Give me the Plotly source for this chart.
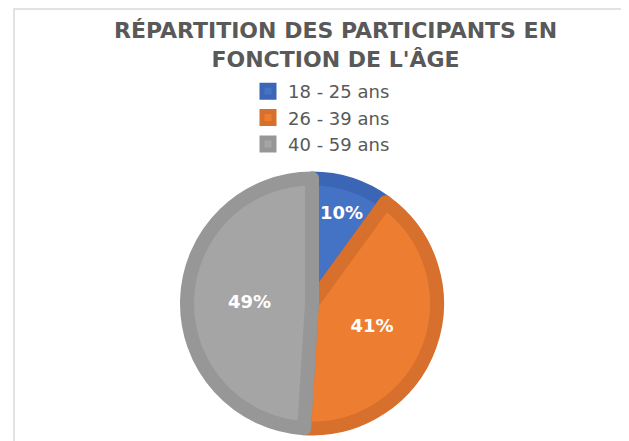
import plotly.graph_objects as go

categories = ["18 - 25 ans", "26 - 39 ans", "40 - 59 ans"]
values = [10, 41, 49]
title_text = "RÉPARTITION DES PARTICIPANTS EN<br>FONCTION DE L'ÂGE"

fill_colors = ["#4472C4", "#ED7D31", "#A5A5A5"]
edge_colors = ["#3B66B5", "#D6702C", "#979797"]

# page body adds an 8px margin, so the figure is 8px smaller than the window
W, H = 621, 433

fig = go.Figure(
    go.Pie(
        labels=categories,
        values=values,
        sort=False,
        direction="clockwise",
        rotation=0,
        marker=dict(colors=fill_colors, line=dict(color=edge_colors, width=14)),
        texttemplate="%{percent:.0%}",
        textposition="inside",
        insidetextorientation="horizontal",
        textfont=dict(family="DejaVu Sans", size=18, color="white", weight="bold"),
        domain=dict(x=[179 / W, 429 / W], y=[12.5 / H, 262.5 / H]),
        hoverinfo="label+percent",
    )
)

fig.update_layout(
    width=W,
    height=H,
    margin=dict(l=0, r=0, t=0, b=0),
    paper_bgcolor="white",
    plot_bgcolor="white",
    title=dict(
        text=title_text,
        x=327.5 / W,
        xanchor="center",
        y=1 - 30 / H,
        yanchor="top",
        yref="container",
        font=dict(family="DejaVu Sans", size=22, color="#595959", weight="bold"),
    ),
    legend=dict(
        x=240 / W,
        xanchor="left",
        y=1 - 65 / H,
        yanchor="top",
        font=dict(family="DejaVu Sans", size=18, color="#595959"),
        bgcolor="rgba(0,0,0,0)",
    ),
    showlegend=True,
    shapes=[
        dict(
            type="rect",
            xref="paper",
            yref="paper",
            x0=6 / W,
            x1=619 / W,
            y0=-0.1,
            y1=1 - 1 / H,
            line=dict(color="#D9D9D9", width=1.5),
            fillcolor="rgba(0,0,0,0)",
            layer="below",
        )
    ],
)

fig.write_html("out.html")
